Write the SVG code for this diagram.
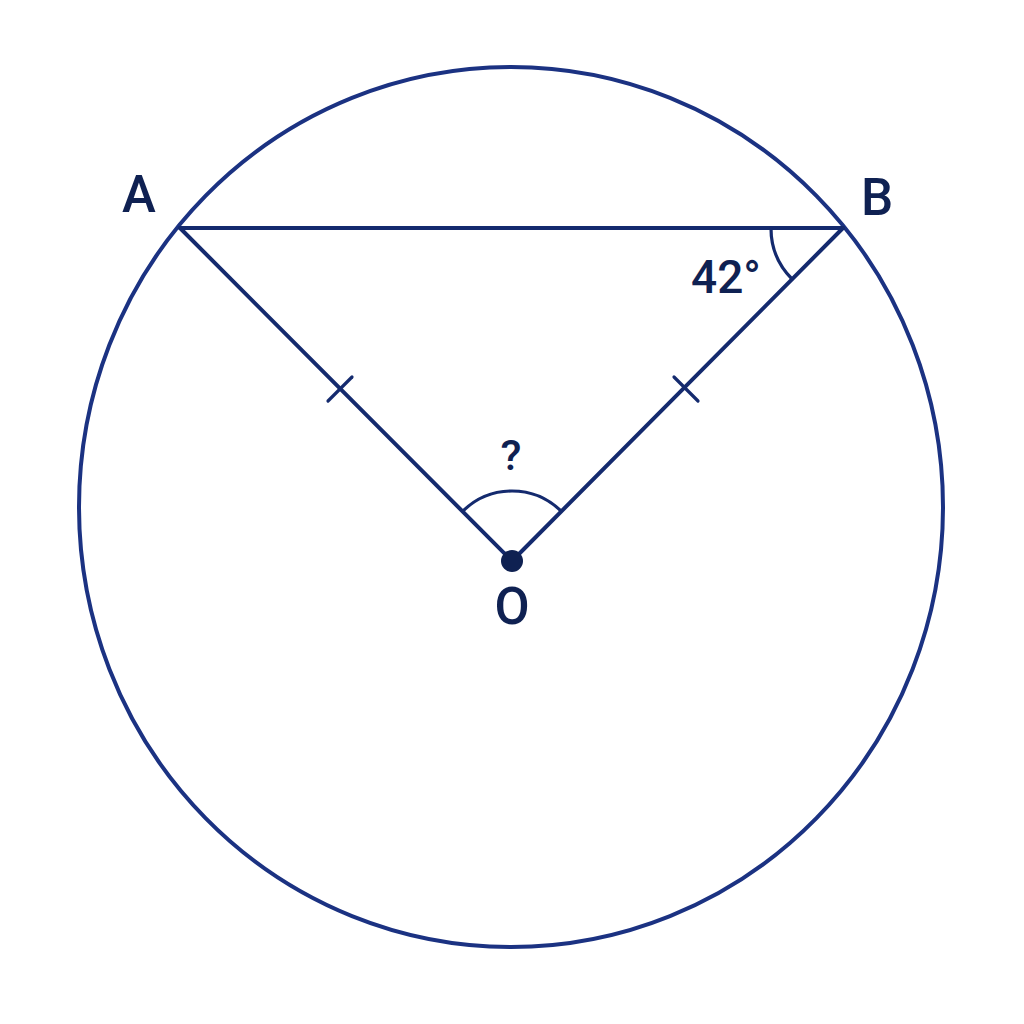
<svg xmlns="http://www.w3.org/2000/svg" width="1024" height="1024" viewBox="0 0 1024 1024">
<style>
.ln{fill:none;stroke:#142a6e;stroke-width:4;stroke-linecap:round;stroke-linejoin:round}
.thin{fill:none;stroke:#142a6e;stroke-width:3.2;stroke-linecap:round}
.lbl{font-family:Roboto,"Liberation Sans",Arial,sans-serif;font-weight:500;fill:#0f2152}
</style>
<rect width="1024" height="1024" fill="#ffffff"/>
<g id="circle">
<ellipse cx="511" cy="507" rx="432" ry="440" fill="none" stroke="#1b3282" stroke-width="4"/>
</g>
<g id="connectors">
<line class="ln" x1="180" y1="228" x2="843" y2="228"/>
<line class="ln" x1="180" y1="228" x2="512" y2="561"/>
<line class="ln" x1="843" y1="228" x2="512" y2="561"/>
<line class="thin" x1="328" y1="401" x2="352" y2="377"/>
<line class="thin" x1="674" y1="377" x2="698" y2="401"/>
<path class="thin" d="M463,511 A70,70 0 0 1 561,511"/>
<path class="thin" d="M771,228 A72,72 0 0 0 792,279"/>
</g>
<g id="A"><text class="lbl" x="139" y="212" font-size="51" text-anchor="middle">A</text></g>
<g id="B"><text class="lbl" x="877" y="215" font-size="51" text-anchor="middle">B</text></g>
<g id="O">
<circle cx="512" cy="561" r="11" fill="#0f2152"/>
<text class="lbl" x="512" y="624" font-size="51" text-anchor="middle">O</text>
</g>
<g id="angleB"><text class="lbl" x="726" y="293" font-size="46" text-anchor="middle">42°</text></g>
<g id="angleO"><text class="lbl" x="511" y="470" font-size="43" text-anchor="middle">?</text></g>
</svg>
